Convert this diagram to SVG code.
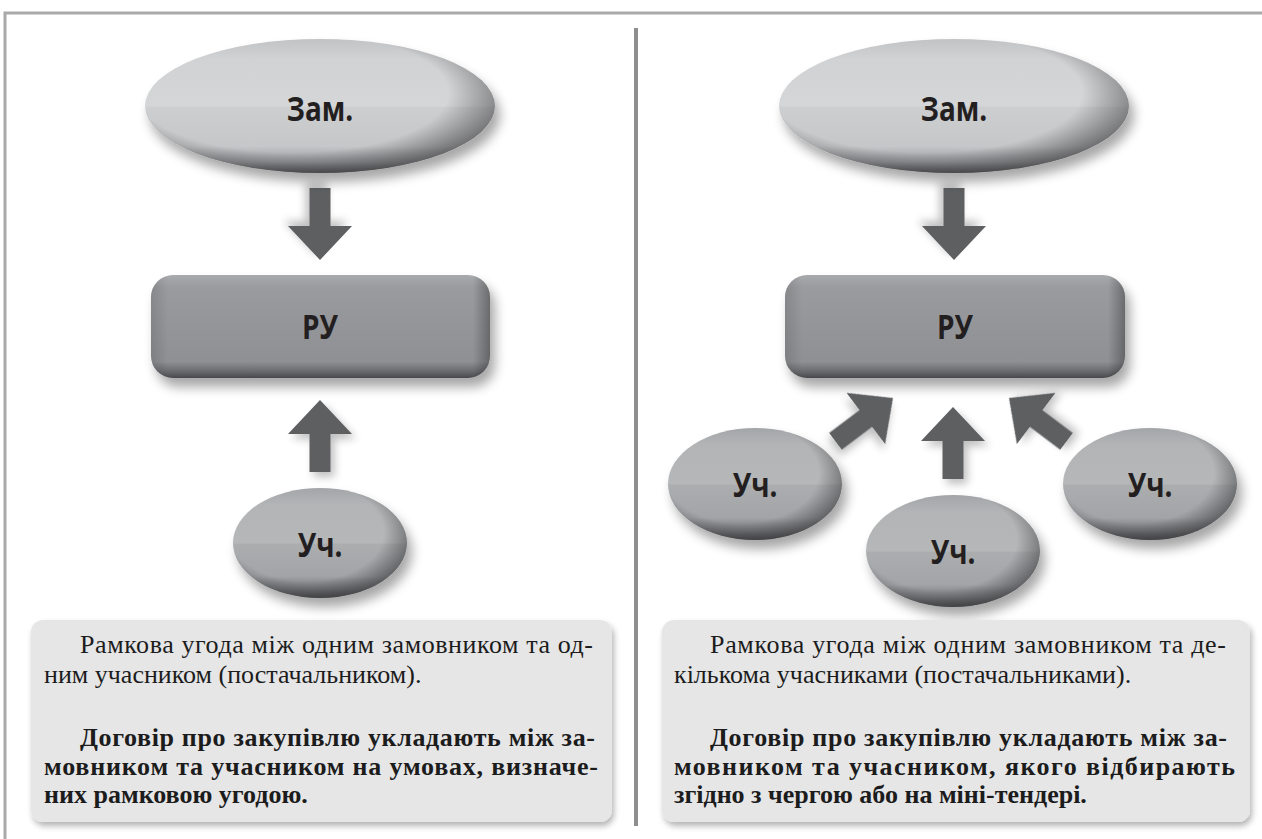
<svg xmlns="http://www.w3.org/2000/svg" width="1262" height="839" viewBox="0 0 1262 839">
<defs>
<style>
.lbl{font-family:"Open Sans","Liberation Sans",sans-serif;font-weight:700;font-size:34px;fill:#231f20;text-anchor:middle}
.txt{font-family:"Liberation Serif","Times New Roman",serif;font-size:26px;fill:#1c1c1c}
.b{font-weight:bold}
.arrow{fill:#5d5e61}
.frame{stroke:#a9a9a9;stroke-width:3;fill:none}
.box{fill:#e6e6e7}
</style>
<linearGradient id="gZam" x1="0" y1="0" x2="0" y2="1">
<stop offset="0" stop-color="#c2c3c5"/>
<stop offset="0.15" stop-color="#d1d2d4"/>
<stop offset="0.5" stop-color="#d5d6d8"/>
<stop offset="0.51" stop-color="#cdced0"/>
<stop offset="0.8" stop-color="#c6c7c9"/>
<stop offset="0.92" stop-color="#9a9b9e"/>
<stop offset="1" stop-color="#5a5b5e"/>
</linearGradient>
<linearGradient id="gUch" x1="0" y1="0" x2="0" y2="1">
<stop offset="0" stop-color="#a3a5a8"/>
<stop offset="0.15" stop-color="#b2b4b6"/>
<stop offset="0.5" stop-color="#b5b7b9"/>
<stop offset="0.51" stop-color="#abadaf"/>
<stop offset="0.8" stop-color="#a2a4a7"/>
<stop offset="0.92" stop-color="#76777a"/>
<stop offset="1" stop-color="#4c4d50"/>
</linearGradient>
<linearGradient id="gRu" x1="0" y1="0" x2="0" y2="1">
<stop offset="0" stop-color="#a9aaad"/>
<stop offset="0.12" stop-color="#9a9b9e"/>
<stop offset="0.5" stop-color="#949598"/>
<stop offset="0.84" stop-color="#8f9093"/>
<stop offset="0.93" stop-color="#6c6d70"/>
<stop offset="1" stop-color="#48494c"/>
</linearGradient>
<radialGradient id="gRim" cx="0.42" cy="0.4" r="0.62">
<stop offset="0.72" stop-color="#3a3a3c" stop-opacity="0"/>
<stop offset="1" stop-color="#3a3a3c" stop-opacity="0.6"/>
</radialGradient>
<linearGradient id="gSide" x1="0" y1="0" x2="1" y2="0">
<stop offset="0" stop-color="#000" stop-opacity="0.12"/>
<stop offset="0.05" stop-color="#000" stop-opacity="0"/>
<stop offset="0.95" stop-color="#000" stop-opacity="0"/>
<stop offset="1" stop-color="#000" stop-opacity="0.3"/>
</linearGradient>
<filter id="sh" x="-20%" y="-20%" width="150%" height="160%">
<feGaussianBlur in="SourceAlpha" stdDeviation="6"/>
<feOffset dx="5" dy="9" result="o"/>
<feComponentTransfer><feFuncA type="linear" slope="0.35"/></feComponentTransfer>
<feMerge><feMergeNode/><feMergeNode in="SourceGraphic"/></feMerge>
</filter>
<filter id="shA" x="-40%" y="-40%" width="200%" height="200%">
<feGaussianBlur in="SourceAlpha" stdDeviation="4"/>
<feOffset dx="4" dy="5" result="o"/>
<feComponentTransfer><feFuncA type="linear" slope="0.25"/></feComponentTransfer>
<feMerge><feMergeNode/><feMergeNode in="SourceGraphic"/></feMerge>
</filter>
<filter id="shB" x="-5%" y="-10%" width="110%" height="125%">
<feGaussianBlur in="SourceAlpha" stdDeviation="3"/>
<feOffset dx="2" dy="4" result="o"/>
<feComponentTransfer><feFuncA type="linear" slope="0.3"/></feComponentTransfer>
<feMerge><feMergeNode/><feMergeNode in="SourceGraphic"/></feMerge>
</filter>
<path id="arr" d="M0,0 L32,34 L10.5,34 L10.5,72 L-10.5,72 L-10.5,34 L-32,34 Z"/>
</defs>
<rect width="1262" height="839" fill="#ffffff"/>
<g id="frame">
<path class="frame" d="M5,839 L5,13 L1262,13"/>
<rect x="634" y="28" width="4" height="798" fill="#8e8e8e"/>
</g>

<g id="connectors">
<use href="#arr" class="arrow" filter="url(#shA)" transform="translate(320,260) rotate(180)"/>
<use href="#arr" class="arrow" filter="url(#shA)" transform="translate(320,400)"/>
<use href="#arr" class="arrow" filter="url(#shA)" transform="translate(954,260) rotate(180)"/>
<use href="#arr" class="arrow" filter="url(#shA)" transform="translate(953,407)"/>
<use href="#arr" class="arrow" filter="url(#shA)" transform="translate(893,398) rotate(53)"/>
<use href="#arr" class="arrow" filter="url(#shA)" transform="translate(1009,398) rotate(-53)"/>
</g>

<g id="zam-left">
<ellipse cx="320" cy="106" rx="175" ry="67" fill="url(#gZam)" filter="url(#sh)"/>
<ellipse cx="320" cy="106" rx="175" ry="67" fill="url(#gRim)"/>
<text class="lbl" transform="translate(320,121) scale(0.82,1)">Зам.</text>
</g>
<g id="ru-left">
<rect x="151" y="275" width="339" height="103" rx="22" fill="url(#gRu)" filter="url(#sh)"/>
<rect x="151" y="275" width="339" height="103" rx="22" fill="url(#gSide)"/>
<text class="lbl" transform="translate(320,339) scale(0.82,1)">РУ</text>
</g>
<g id="uch-left">
<ellipse cx="320" cy="543" rx="87" ry="55" fill="url(#gUch)" filter="url(#sh)"/>
<ellipse cx="320" cy="543" rx="87" ry="55" fill="url(#gRim)"/>
<text class="lbl" transform="translate(320,557) scale(0.82,1)">Уч.</text>
</g>
<g id="text-left">
<rect class="box" x="31" y="620" width="581" height="202" rx="12" filter="url(#shB)"/>
<text class="txt" x="80" y="653" textLength="513" lengthAdjust="spacing">Рамкова угода між одним замовником та од-</text>
<text class="txt" x="44" y="683">ним учасником (постачальником).</text>
<text class="txt b" x="80" y="746" textLength="515" lengthAdjust="spacing">Договір про закупівлю укладають між за-</text>
<text class="txt b" x="44" y="775" textLength="554" lengthAdjust="spacing">мовником та учасником на умовах, визначе-</text>
<text class="txt b" x="44" y="803">них рамковою угодою.</text>
</g>

<g id="zam-right">
<ellipse cx="954" cy="106" rx="175" ry="67" fill="url(#gZam)" filter="url(#sh)"/>
<ellipse cx="954" cy="106" rx="175" ry="67" fill="url(#gRim)"/>
<text class="lbl" transform="translate(954,121) scale(0.82,1)">Зам.</text>
</g>
<g id="ru-right">
<rect x="785" y="275" width="340" height="103" rx="22" fill="url(#gRu)" filter="url(#sh)"/>
<rect x="785" y="275" width="340" height="103" rx="22" fill="url(#gSide)"/>
<text class="lbl" transform="translate(955,339) scale(0.82,1)">РУ</text>
</g>
<g id="uch-right-1">
<ellipse cx="755" cy="484" rx="87" ry="56" fill="url(#gUch)" filter="url(#sh)"/>
<ellipse cx="755" cy="484" rx="87" ry="56" fill="url(#gRim)"/>
<text class="lbl" transform="translate(755,497) scale(0.82,1)">Уч.</text>
</g>
<g id="uch-right-2">
<ellipse cx="953" cy="551" rx="87" ry="56" fill="url(#gUch)" filter="url(#sh)"/>
<ellipse cx="953" cy="551" rx="87" ry="56" fill="url(#gRim)"/>
<text class="lbl" transform="translate(953,564) scale(0.82,1)">Уч.</text>
</g>
<g id="uch-right-3">
<ellipse cx="1150" cy="484" rx="87" ry="56" fill="url(#gUch)" filter="url(#sh)"/>
<ellipse cx="1150" cy="484" rx="87" ry="56" fill="url(#gRim)"/>
<text class="lbl" transform="translate(1150,497) scale(0.82,1)">Уч.</text>
</g>
<g id="text-right">
<rect class="box" x="662" y="620" width="588" height="202" rx="12" filter="url(#shB)"/>
<text class="txt" x="710" y="653" textLength="516" lengthAdjust="spacing">Рамкова угода між одним замовником та де-</text>
<text class="txt" x="674" y="683">кількома учасниками (постачальниками).</text>
<text class="txt b" x="710" y="746" textLength="517" lengthAdjust="spacing">Договір про закупівлю укладають між за-</text>
<text class="txt b" x="674" y="775" textLength="561" lengthAdjust="spacing">мовником та учасником, якого відбирають</text>
<text class="txt b" x="674" y="803">згідно з чергою або на міні-тендері.</text>
</g>
</svg>
